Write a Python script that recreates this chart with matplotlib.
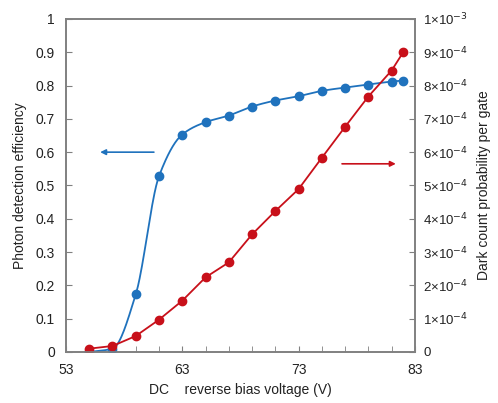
import numpy as np
import matplotlib
matplotlib.use("Agg")
import matplotlib.pyplot as plt
from matplotlib.ticker import FixedLocator

plt.rcParams['font.family'] = ['Liberation Sans', 'DejaVu Sans']

voltage = [55, 57, 59, 61, 63, 65, 67, 69, 71, 73, 75, 77, 79, 81, 82]
pde = [0.0, 0.01, 0.173, 0.528, 0.653, 0.69, 0.71, 0.737, 0.755, 0.768, 0.784, 0.794, 0.803, 0.812, 0.815]
dcp = [1.0e-5, 1.8e-5, 4.8e-5, 9.7e-5, 1.54e-4, 2.24e-4, 2.69e-4, 3.53e-4, 4.23e-4, 4.89e-4,
       5.83e-4, 6.76e-4, 7.67e-4, 8.45e-4, 9.0e-4]
x_ticks = [53, 63, 73, 83]
x_minor = list(range(53, 84, 2))
left_ticks = [0, 0.1, 0.2, 0.3, 0.4, 0.5, 0.6, 0.7, 0.8, 0.9, 1.0]
left_labels = ['0', '0.1', '0.2', '0.3', '0.4', '0.5', '0.6', '0.7', '0.8', '0.9', '1']
right_ticks = [0, 1e-4, 2e-4, 3e-4, 4e-4, 5e-4, 6e-4, 7e-4, 8e-4, 9e-4, 1e-3]
right_labels = ['0', '1×10$^{-4}$', '2×10$^{-4}$', '3×10$^{-4}$', '4×10$^{-4}$', '5×10$^{-4}$',
                '6×10$^{-4}$', '7×10$^{-4}$', '8×10$^{-4}$', '9×10$^{-4}$', '1×10$^{-3}$']

BLUE = '#1f72bd'
RED = '#c8101a'
GREY = '#808080'
TXT = '#222222'


def pchip(x, y, xn):
    x = np.asarray(x, float); y = np.asarray(y, float)
    h = np.diff(x); d = np.diff(y) / h
    n = len(x); m = np.zeros(n)
    for k in range(1, n - 1):
        if d[k - 1] * d[k] > 0:
            w1 = 2 * h[k] + h[k - 1]; w2 = h[k] + 2 * h[k - 1]
            m[k] = (w1 + w2) / (w1 / d[k - 1] + w2 / d[k])
    m[0] = d[0]; m[-1] = d[-1]
    idx = np.clip(np.searchsorted(x, xn) - 1, 0, n - 2)
    t = (xn - x[idx]) / h[idx]
    h00 = 2 * t**3 - 3 * t**2 + 1; h10 = t**3 - 2 * t**2 + t
    h01 = -2 * t**3 + 3 * t**2; h11 = t**3 - t**2
    return h00 * y[idx] + h10 * h[idx] * m[idx] + h01 * y[idx + 1] + h11 * h[idx] * m[idx + 1]


fig = plt.figure(figsize=(4.98, 4.03), dpi=100)
ax = fig.add_axes([0.1325, 0.1266, 0.7005, 0.8264])
ax2 = ax.twinx()

xs = np.linspace(voltage[0], voltage[-1], 400)
ax.plot(xs, pchip(voltage, pde, xs), color=BLUE, lw=1.3, zorder=3)
ax.plot(voltage, pde, 'o', color=BLUE, ms=6, zorder=4)
ax2.plot(voltage, dcp, '-o', color=RED, lw=1.3, ms=6)

ax.set_xlim(53, 83)
ax.set_ylim(0, 1)
ax2.set_ylim(0, 1e-3)
ax.xaxis.set_major_locator(FixedLocator(x_ticks))
ax.xaxis.set_minor_locator(FixedLocator(x_minor))
ax.set_xticklabels([str(v) for v in x_ticks])
ax.yaxis.set_major_locator(FixedLocator(left_ticks))
ax.set_yticklabels(left_labels)
ax2.yaxis.set_major_locator(FixedLocator(right_ticks))
ax2.set_yticklabels(right_labels)

for a in (ax, ax2):
    for s in a.spines.values():
        s.set_color(GREY)
        s.set_linewidth(1.2)
    a.tick_params(which='both', direction='in', color=GREY, labelsize=10, labelcolor=TXT, length=4)
ax.tick_params(axis='y', pad=8)
ax2.tick_params(axis='y', pad=6, labelsize=9.5)
ax.tick_params(axis='x', pad=8)

ax.set_ylabel('Photon detection efficiency', fontsize=10, color=TXT, labelpad=6)
ax2.set_ylabel('Dark count probability per gate', fontsize=10, color=TXT, labelpad=6)
ax.set_xlabel('DC    reverse bias voltage (V)', fontsize=10, color=TXT, labelpad=4)

ax.annotate('', xy=(55.7, 0.6), xytext=(60.8, 0.6),
            arrowprops=dict(arrowstyle='-|>', color=BLUE, lw=1.2, mutation_scale=8))
ax.annotate('', xy=(81.6, 0.565), xytext=(76.5, 0.565),
            arrowprops=dict(arrowstyle='-|>', color=RED, lw=1.2, mutation_scale=8))

fig.savefig('out.png', dpi=100)
